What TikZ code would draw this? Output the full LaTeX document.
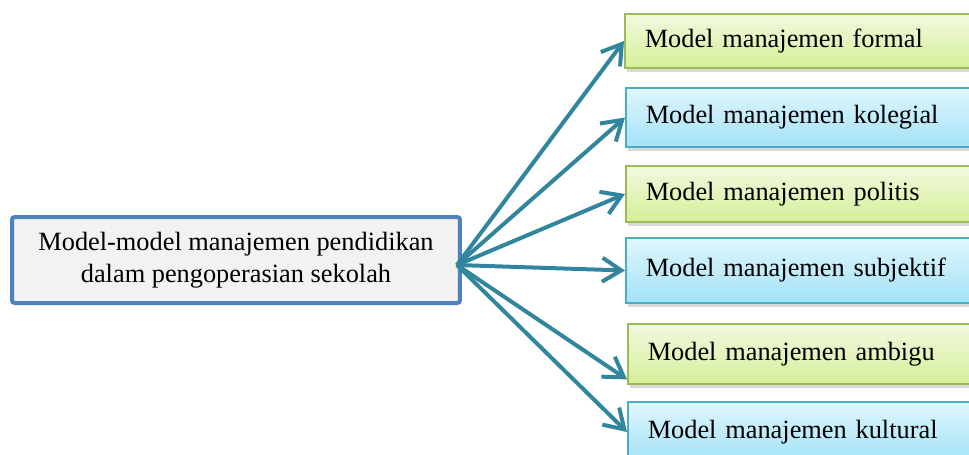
\documentclass[tikz,border=0pt]{standalone}
\usepackage{fontspec}
\setmainfont{Liberation Serif}
\usetikzlibrary{arrows.meta,shadows}

\definecolor{mainblue}{HTML}{4F81BD}
\definecolor{mainfill}{HTML}{F2F2F2}
\definecolor{arrowteal}{HTML}{31859C}
\definecolor{greenline}{HTML}{9BBB59}
\definecolor{greentop}{HTML}{F2F9E0}
\definecolor{greenbot}{HTML}{D5EF98}
\definecolor{blueline}{HTML}{4BACC6}
\definecolor{bluetop}{HTML}{E0F6FD}
\definecolor{bluebot}{HTML}{A2E2F7}

\begin{document}
\begin{tikzpicture}[
  x=0.02cm, y=-0.02cm,
  mainbox/.style={draw=mainblue, fill=mainfill, line width=0.08cm, rounded corners=1.5pt,
                  minimum width=8.96cm, minimum height=1.72cm, align=center,
                  font=\fontsize{15}{18}\selectfont},
  model/.style={draw, line width=0.03cm, anchor=west, text width=6.4cm, inner xsep=0.4cm,
                align=left, font=\fontsize{15}{18}\selectfont,
                drop shadow={opacity=0.3, shadow xshift=0.04cm, shadow yshift=-0.08cm}},
  greenbox/.style={model, draw=greenline, top color=greentop, bottom color=greenbot},
  bluebox/.style={model, draw=blueline, top color=bluetop, bottom color=bluebot},
  arrow/.style={-{Straight Barb[length=0.38cm, width=0.48cm]}, line width=0.08cm, arrowteal},
]
\useasboundingbox (0,0) rectangle (969,454);

% Central box
\node[mainbox] (main) at (236, 260) {\raisebox{-4pt}{\parbox{8cm}{\centering
  Model-model manajemen pendidikan\\dalam pengoperasian sekolah}}};

% Right: the six models
\node[greenbox, minimum height=1.08cm] (formal) at (624, 41) {Model manajemen formal};
\node[bluebox, minimum height=1.18cm] (kolegial) at (625, 117.5) {Model manajemen kolegial};
\node[greenbox, minimum height=1.12cm] (politis) at (625, 194) {Model manajemen politis};
\node[bluebox, minimum height=1.3cm] (subjektif) at (625, 270.5) {Model manajemen subjektif};
\node[greenbox, minimum height=1.2cm] (ambigu) at (627, 354) {Model manajemen ambigu};
\node[bluebox, minimum height=1.2cm] (kultural) at (627, 432) {Model manajemen kultural};

% Arrows, all from one point on the central box
\coordinate (hub) at ([xshift=-0.1cm, yshift=-0.1cm]main.east);
\draw[arrow] (hub) -- (formal.west);
\draw[arrow] (hub) -- (kolegial.west);
\draw[arrow] (hub) -- (politis.west);
\draw[arrow] (hub) -- (subjektif.west);
\draw[arrow] (hub) -- (ambigu.188);
\draw[arrow] (hub) -- (kultural.west);

\end{tikzpicture}
\end{document}
